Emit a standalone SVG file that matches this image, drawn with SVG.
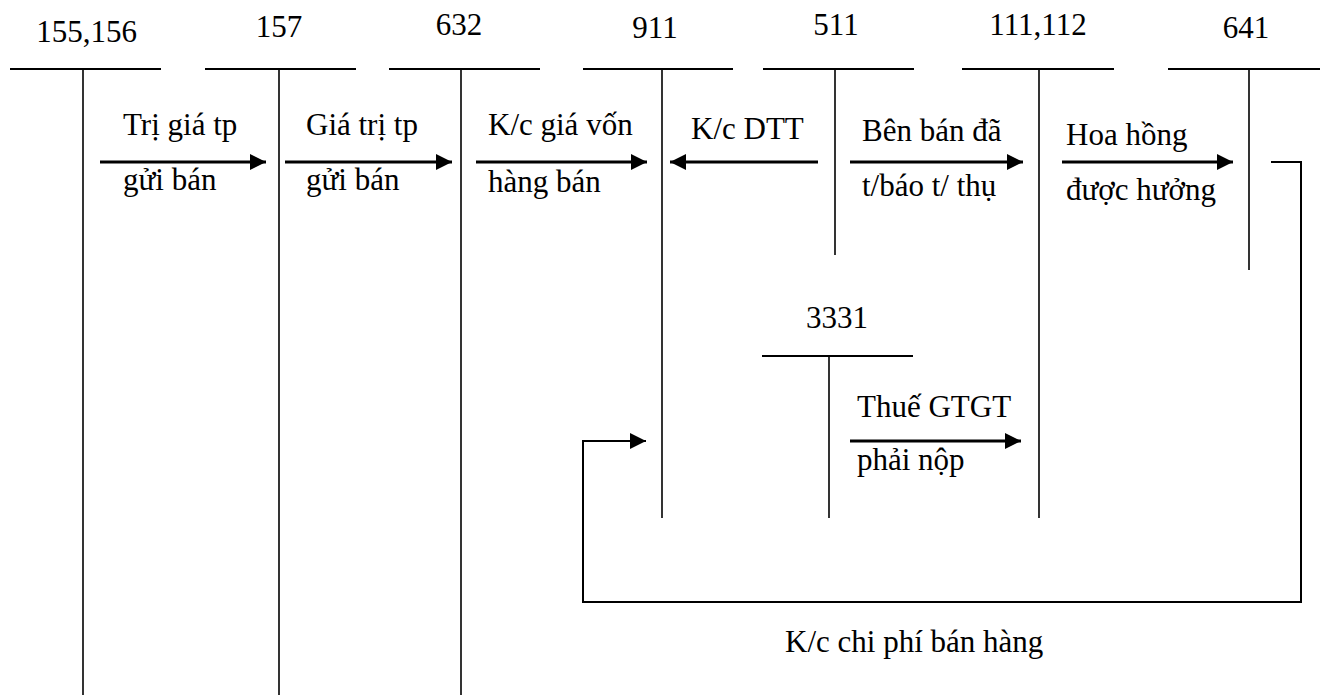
<svg xmlns="http://www.w3.org/2000/svg" width="1323" height="695" viewBox="0 0 1323 695">
<style>
  text { font-family: 'Liberation Serif', 'DejaVu Serif', serif; font-size: 31px; fill: #000; }
  .num { text-anchor: middle; }
  .hl { stroke: #000; stroke-width: 2; fill: none; }
  .vl { stroke: #000; stroke-width: 1.6; fill: none; }
  .arr { stroke: #000; stroke-width: 3; fill: none; marker-end: url(#ah); }
  .loop { stroke: #000; stroke-width: 2; fill: none; marker-end: url(#ah); }
</style>
<defs>
  <marker id="ah" markerUnits="userSpaceOnUse" markerWidth="18" markerHeight="17" refX="16" refY="8" orient="auto">
    <path d="M0,0 L16,8 L0,16 z" fill="#000"/>
  </marker>
</defs>
<rect width="1323" height="695" fill="#fff"/>

<g id="acc-155-156">
  <text class="num" x="86.5" y="42" font-family="Liberation Serif, serif">155,156</text>
  <line class="hl" x1="10" y1="69" x2="161" y2="69"/>
  <line class="vl" x1="83" y1="69" x2="83" y2="695"/>
</g>
<g id="acc-157">
  <text class="num" x="279" y="37">157</text>
  <line class="hl" x1="205" y1="69" x2="356" y2="69"/>
  <line class="vl" x1="279" y1="69" x2="279" y2="695"/>
</g>
<g id="acc-632">
  <text class="num" x="459" y="35">632</text>
  <line class="hl" x1="389" y1="69" x2="540" y2="69"/>
  <line class="vl" x1="461" y1="69" x2="461" y2="695"/>
</g>
<g id="acc-911">
  <text class="num" x="655" y="38">911</text>
  <line class="hl" x1="583" y1="69" x2="733" y2="69"/>
  <line class="vl" x1="662" y1="69" x2="662" y2="518"/>
</g>
<g id="acc-511">
  <text class="num" x="836" y="35">511</text>
  <line class="hl" x1="763" y1="69" x2="914" y2="69"/>
  <line class="vl" x1="835" y1="69" x2="835" y2="255"/>
</g>
<g id="acc-111-112">
  <text class="num" x="1038" y="35">111,112</text>
  <line class="hl" x1="962" y1="69" x2="1114" y2="69"/>
  <line class="vl" x1="1039" y1="69" x2="1039" y2="518"/>
</g>
<g id="acc-641">
  <text class="num" x="1246" y="38">641</text>
  <line class="hl" x1="1168" y1="69" x2="1320" y2="69"/>
  <line class="vl" x1="1249" y1="69" x2="1249" y2="270"/>
</g>
<g id="acc-3331">
  <text class="num" x="837" y="328">3331</text>
  <line class="hl" x1="762" y1="356" x2="913" y2="356"/>
  <line class="vl" x1="829" y1="356" x2="829" y2="518"/>
</g>

<g id="connectors">
  <line class="arr" x1="100" y1="162" x2="266" y2="162"/>
  <line class="arr" x1="285" y1="162" x2="452" y2="162"/>
  <line class="arr" x1="476" y1="162" x2="647" y2="162"/>
  <line class="arr" x1="818" y1="162" x2="670" y2="162"/>
  <line class="arr" x1="850" y1="162" x2="1023" y2="162"/>
  <line class="arr" x1="1062" y1="162" x2="1233" y2="162"/>
  <line class="arr" x1="850" y1="441" x2="1021" y2="441"/>
  <polyline class="loop" points="1271,162 1301,162 1301,602 583,602 583,441 646,441"/>
</g>

<g id="connector-labels">
  <text x="123" y="135">Trị giá tp</text>
  <text x="123" y="190">gửi bán</text>
  <text x="306" y="135">Giá trị tp</text>
  <text x="306" y="190">gửi bán</text>
  <text x="488" y="135">K/c giá vốn</text>
  <text x="488" y="192">hàng bán</text>
  <text x="691" y="139">K/c DTT</text>
  <text x="862" y="141">Bên bán đã</text>
  <text x="862" y="196">t/báo t/ thụ</text>
  <text x="1066" y="145">Hoa hồng</text>
  <text x="1066" y="200">được hưởng</text>
  <text x="857" y="417">Thuế GTGT</text>
  <text x="857" y="470">phải nộp</text>
  <text x="785" y="652">K/c chi phí bán hàng</text>
</g>
</svg>
